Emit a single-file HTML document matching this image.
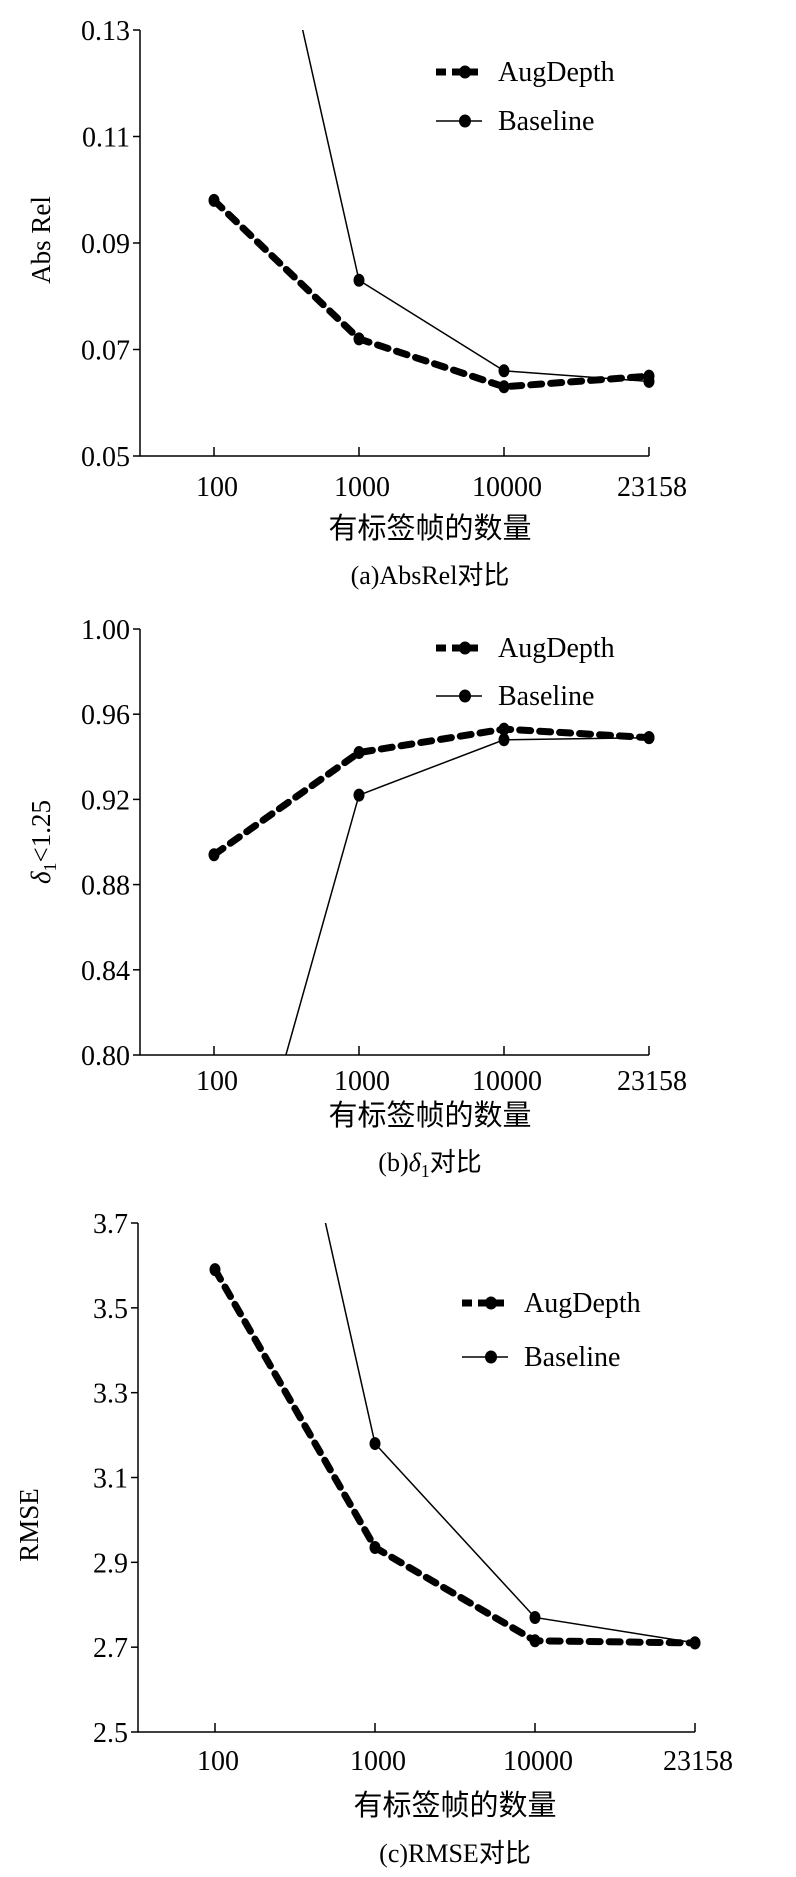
<!DOCTYPE html>
<html><head><meta charset="utf-8"><style>
body{margin:0;background:#fff;}
svg{display:block;}
text{font-family:"Liberation Serif","Noto Serif CJK SC",serif;fill:#000;}
.cj{font-family:"Liberation Serif","Noto Sans CJK SC",sans-serif;}
</style></head><body>
<svg id="c" width="796" height="1877"></svg>
<script>
const categories=["100","1000","10000","23158"];
const augA=[0.098,0.072,0.063,0.065];
const baseA=[0.204,0.083,0.066,0.064];
const ticksA=[0.05,0.07,0.09,0.11,0.13];
const augB=[0.894,0.942,0.953,0.949];
const baseB=[0.68,0.922,0.948,0.949];
const ticksB=[0.80,0.84,0.88,0.92,0.96,1.00];
const augC=[3.59,2.935,2.715,2.71];
const baseC=[4.86,3.18,2.77,2.71];
const ticksC=[2.5,2.7,2.9,3.1,3.3,3.5,3.7];
const NS="http://www.w3.org/2000/svg";
const svg=document.getElementById('c');
function mk(tag,attrs,parent,txt){const e=document.createElementNS(NS,tag);for(const k in attrs)e.setAttribute(k,attrs[k]);if(txt!==undefined)e.textContent=txt;(parent||svg).appendChild(e);return e;}
function panel(cfg){
  const g=mk('g',{});
  
  
  const Y=v=>cfg.y0-(v-cfg.ymin)/(cfg.ymax-cfg.ymin)*(cfg.y0-cfg.y1);
  const X=i=>cfg.xs[0]+i*(cfg.xs[1]-cfg.xs[0]);
  const clipId=cfg.name+'-clip';
  const cp=mk('clipPath',{id:clipId},g);
  mk('rect',{x:cfg.left,y:cfg.y1,width:X(3)-cfg.left+15,height:cfg.y0-cfg.y1},cp);
  const ax=mk('path',{d:`M${cfg.left},${cfg.y1}V${cfg.y0}H${X(3)}`,stroke:'#000','stroke-width':1.5,fill:'none'},g);
  
  cfg.ticks.forEach(t=>{
    mk('line',{x1:cfg.left-7,x2:cfg.left,y1:Y(t),y2:Y(t),stroke:'#000','stroke-width':1.5},g);
    const tl=mk('text',{x:cfg.left-10,y:Y(t)+10,'text-anchor':'end','font-size':28},g,t.toFixed(cfg.dec));
    
  });
  categories.forEach((c,i)=>{
    mk('line',{x1:X(i),x2:X(i),y1:cfg.y0,y2:cfg.y0-9,stroke:'#000','stroke-width':1.5},g);
    const tl=mk('text',{x:X(i)+3,y:cfg.labY,'text-anchor':'middle','font-size':28},g,c);
    
  });
  const lg=mk('g',{'clip-path':`url(#${clipId})`},g);
  const bl=mk('polyline',{points:cfg.base.map((v,i)=>X(i)+','+Y(v)).join(' '),stroke:'#000','stroke-width':1.5,fill:'none'},lg);
  
  const al=mk('polyline',{points:cfg.aug.map((v,i)=>X(i)+','+Y(v)).join(' '),stroke:'#000','stroke-width':7,'stroke-dasharray':'11 9','stroke-linecap':'round',fill:'none'},lg);
  
  cfg.base.forEach((v,i)=>{const p=mk('ellipse',{cx:X(i),cy:Y(v),rx:5.5,ry:6.5},lg);});
  cfg.aug.forEach((v,i)=>{const p=mk('ellipse',{cx:X(i),cy:Y(v),rx:5.5,ry:6.5},lg);});
  const L=cfg.leg;
  const le1=mk('g',{},g);
  mk('line',{x1:L.x,x2:L.x+46,y1:L.y,y2:L.y,stroke:'#000','stroke-width':7,'stroke-dasharray':'10 6'},le1);
  mk('ellipse',{cx:L.x+29,cy:L.y,rx:6,ry:6.5},le1);
  mk('text',{x:L.x+62,y:L.y+9,'font-size':28},le1,'AugDepth');
  const le2=mk('g',{},g);
  mk('line',{x1:L.x,x2:L.x+46,y1:L.y+L.dy,y2:L.y+L.dy,stroke:'#000','stroke-width':1.5},le2);
  mk('ellipse',{cx:L.x+29,cy:L.y+L.dy,rx:6,ry:6.5},le2);
  mk('text',{x:L.x+62,y:L.y+L.dy+9,'font-size':28},le2,'Baseline');
  const yt=mk('text',{x:0,y:0,'font-size':27,'text-anchor':'middle',transform:`translate(${cfg.ylx},${cfg.yly}) rotate(-90)`},g);
  
  yt.innerHTML=cfg.ytitle;
  const xt=mk('text',{x:cfg.tx,y:cfg.titleY,'text-anchor':'middle','font-size':29,class:'cj'},g,'有标签帧的数量');
  
  const cap=mk('text',{x:cfg.tx,y:cfg.capY,'text-anchor':'middle','font-size':26,class:'cj'},g);
  
  cap.innerHTML=cfg.cap;
}
panel({name:'panel-absrel',left:140,y0:456,y1:30,ymin:0.05,ymax:0.13,xs:[214,359],ticks:ticksA,dec:2,aug:augA,base:baseA,
  labY:496,titleY:538,capY:584,tx:430,leg:{x:436,y:72,dy:49},ylx:50,yly:240,ytitle:'Abs Rel',cap:'(a)AbsRel对比'});
panel({name:'panel-delta1',left:140,y0:1055,y1:629,ymin:0.80,ymax:1.00,xs:[214,359],ticks:ticksB,dec:2,aug:augB,base:baseB,
  labY:1090,titleY:1125,capY:1171,tx:430,leg:{x:436,y:648,dy:48},ylx:50,yly:842,ytitle:'<tspan font-style="italic">δ</tspan><tspan font-size="18" dy="6">1</tspan><tspan dy="-6">&lt;1.25</tspan>',cap:'(b)<tspan font-style="italic">δ</tspan><tspan font-size="18" dy="6">1</tspan><tspan dy="-6">对比</tspan>'});
panel({name:'panel-rmse',left:138,y0:1732,y1:1223,ymin:2.5,ymax:3.7,xs:[215,375],ticks:ticksC,dec:1,aug:augC,base:baseC,
  labY:1770,titleY:1815,capY:1862,tx:455,leg:{x:462,y:1303,dy:54},ylx:38,yly:1525,ytitle:'RMSE',cap:'(c)RMSE对比'});
</script>
</body></html>
